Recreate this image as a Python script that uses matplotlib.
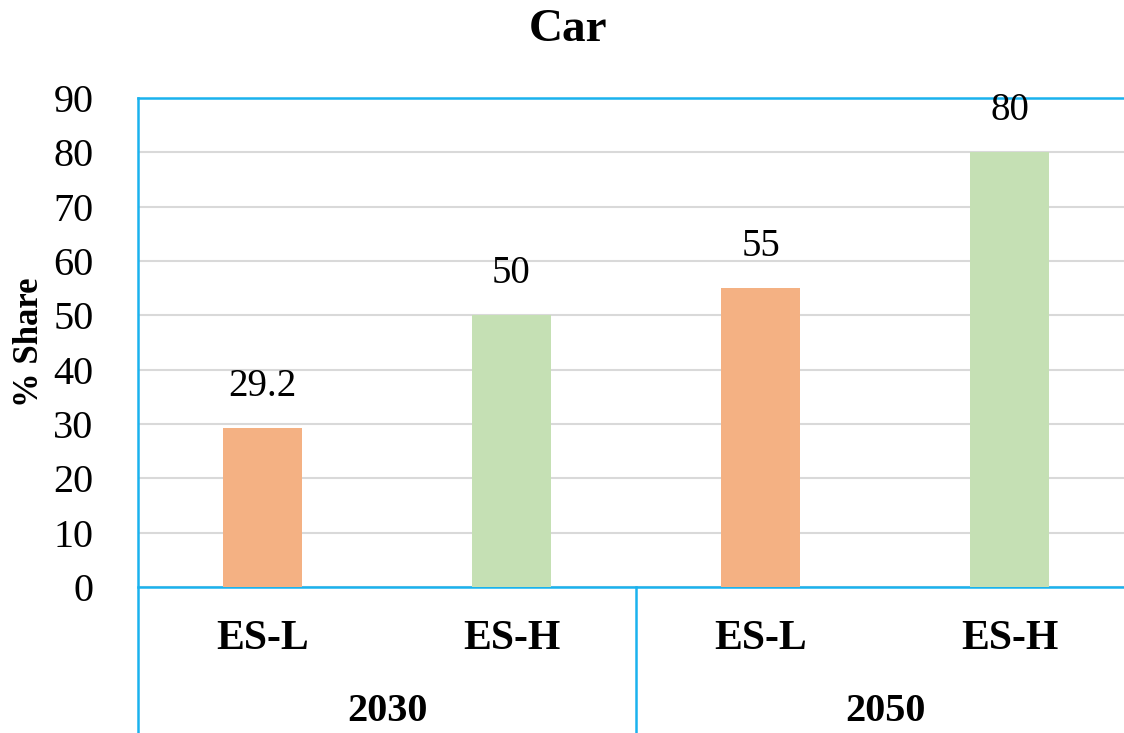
import matplotlib
matplotlib.use("Agg")
import matplotlib.pyplot as plt
import matplotlib.transforms as mtransforms

scenarios = ["ES-L", "ES-H", "ES-L", "ES-H"]
years = ["2030", "2050"]
share = [29.2, 50, 55, 80]
bar_colors = ["#F4B183", "#C5E0B4", "#F4B183", "#C5E0B4"]
value_labels = ["29.2", "50", "55", "80"]

plt.rcParams['font.family'] = ['Liberation Serif', 'DejaVu Serif']

blue = "#1AB2EE"
fig = plt.figure(figsize=(11.24, 7.33), dpi=100)
ax = fig.add_axes([138/1124, (733-587)/733, 996/1124, 489/733])

x = range(len(share))
ax.bar(x, share, width=0.32, color=bar_colors, zorder=3)
for xi, v, lab in zip(x, share, value_labels):
    ax.text(xi, v + 4.3, lab, ha="center", va="bottom", fontsize=28)

ax.set_xlim(-0.5, 3.5)
ax.set_ylim(0, 90)
ax.set_yticks(range(0, 91, 10))
ax.tick_params(axis="y", length=0, labelsize=29, pad=32)
ax.tick_params(axis="x", length=0)
ax.set_xticks([])
ax.yaxis.grid(True, color="#D9D9D9", linewidth=1.5, zorder=0)

for side in ["left", "right"]:
    ax.spines[side].set_visible(False)
ax.spines["top"].set_color(blue)
ax.spines["top"].set_linewidth(1.8)
ax.spines["bottom"].set_color(blue)
ax.spines["bottom"].set_linewidth(1.8)

# category separators extending below the axis
trans = mtransforms.blended_transform_factory(ax.transData, ax.transAxes)
ax.plot([-0.5, -0.5], [1, -0.35], color=blue, lw=1.8, transform=trans, clip_on=False)
ax.plot([1.5, 1.5], [0, -0.35], color=blue, lw=1.8, transform=trans, clip_on=False)

for xi, lab in zip(x, scenarios):
    ax.text(xi, -0.107, lab, transform=trans, ha="center", va="center",
            fontsize=30, fontweight="bold")
for i, yr in enumerate(years):
    ax.text(2 * i + 0.5, -0.254, yr, transform=trans, ha="center", va="center",
            fontsize=29, fontweight="bold")

fig.text(30/1124, 1 - 342/733, "% Share", rotation=90, ha="center", va="center",
         fontsize=25, fontweight="bold")
fig.text(568/1124, 1 - 30/733, "Car", ha="center", va="center",
         fontsize=34, fontweight="bold")

fig.savefig("out.png", dpi=100)
